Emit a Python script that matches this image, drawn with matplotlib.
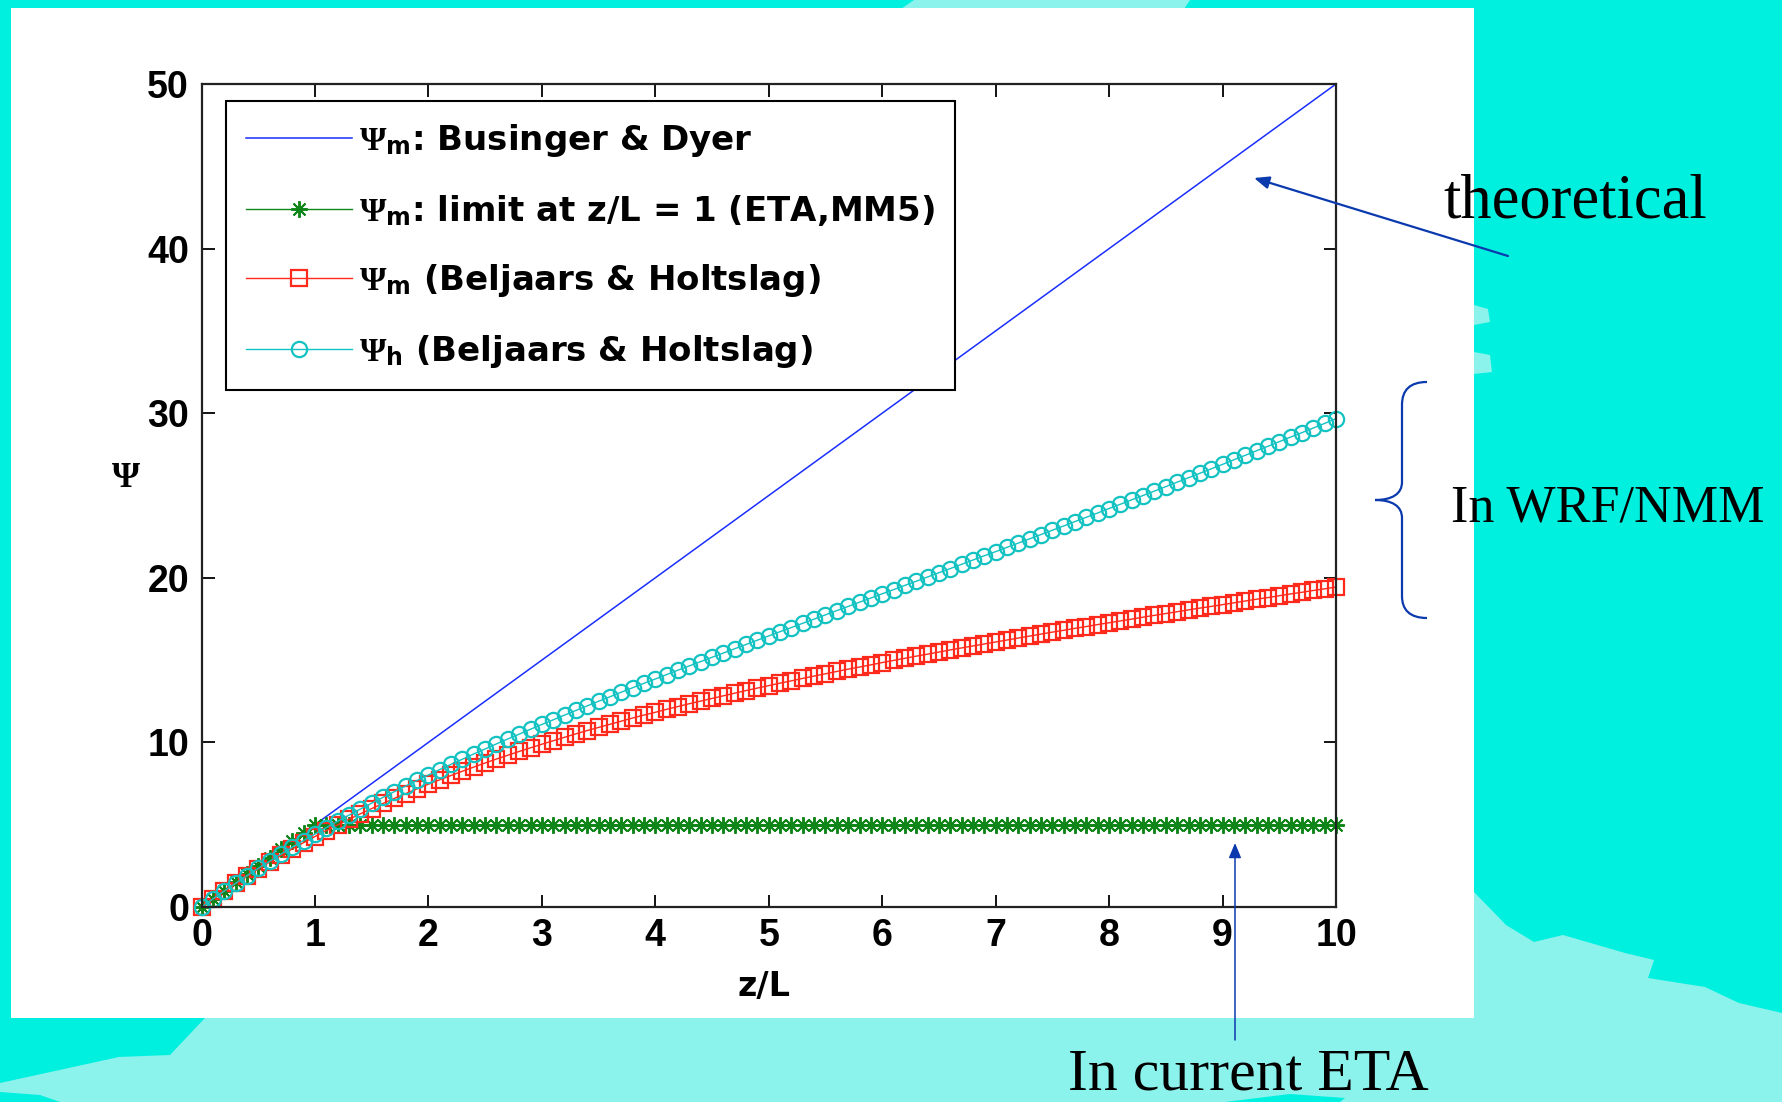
import numpy as np
import matplotlib
matplotlib.use('Agg')
import matplotlib.pyplot as plt
from matplotlib.patches import Polygon, Rectangle, PathPatch, FancyArrowPatch
from matplotlib.path import Path

plt.rcParams['font.family'] = ['Liberation Sans', 'DejaVu Sans']
plt.rcParams['font.weight'] = 'bold'
plt.rcParams['mathtext.fontset'] = 'custom'
plt.rcParams['mathtext.rm'] = 'Liberation Serif'
plt.rcParams['mathtext.it'] = 'Liberation Serif:italic'
plt.rcParams['mathtext.bf'] = 'DejaVu Sans:bold'

# stability parameter grid (step 0.1)
z_L = np.linspace(0.0, 10.0, 101)

# Businger & Dyer, straight line
bd_zl = [0, 1, 2, 3, 4, 5, 6, 7, 8, 9, 10]
bd_psi = [0, 5, 10, 15, 20, 25, 30, 35, 40, 45, 50]

# psi_m capped at z/L = 1 (ETA, MM5)
psi_m_limit = [
    0.0, 0.5, 1.0, 1.5, 2.0, 2.5, 3.0, 3.5, 4.0, 4.5,
    5.0, 5.0, 5.0, 5.0, 5.0, 5.0, 5.0, 5.0, 5.0, 5.0,
    5.0, 5.0, 5.0, 5.0, 5.0, 5.0, 5.0, 5.0, 5.0, 5.0,
    5.0, 5.0, 5.0, 5.0, 5.0, 5.0, 5.0, 5.0, 5.0, 5.0,
    5.0, 5.0, 5.0, 5.0, 5.0, 5.0, 5.0, 5.0, 5.0, 5.0,
    5.0, 5.0, 5.0, 5.0, 5.0, 5.0, 5.0, 5.0, 5.0, 5.0,
    5.0, 5.0, 5.0, 5.0, 5.0, 5.0, 5.0, 5.0, 5.0, 5.0,
    5.0, 5.0, 5.0, 5.0, 5.0, 5.0, 5.0, 5.0, 5.0, 5.0,
    5.0, 5.0, 5.0, 5.0, 5.0, 5.0, 5.0, 5.0, 5.0, 5.0,
    5.0, 5.0, 5.0, 5.0, 5.0, 5.0, 5.0, 5.0, 5.0, 5.0,
    5.0]

# Beljaars & Holtslag, momentum
psi_m_bh = [
    0.00, 0.49, 0.97, 1.43, 1.88, 2.31, 2.73, 3.13, 3.53, 3.91,
    4.28, 4.64, 4.99, 5.33, 5.66, 5.98, 6.29, 6.60, 6.89, 7.18,
    7.46, 7.73, 7.99, 8.25, 8.50, 8.75, 8.99, 9.22, 9.45, 9.67,
    9.89, 10.10, 10.31, 10.52, 10.72, 10.91, 11.10, 11.29, 11.48, 11.66,
    11.83, 12.01, 12.18, 12.35, 12.51, 12.67, 12.83, 12.99, 13.15, 13.30,
    13.45, 13.60, 13.74, 13.89, 14.03, 14.17, 14.31, 14.45, 14.58, 14.71,
    14.85, 14.98, 15.11, 15.24, 15.36, 15.49, 15.62, 15.74, 15.86, 15.98,
    16.10, 16.22, 16.34, 16.46, 16.58, 16.70, 16.81, 16.93, 17.04, 17.16,
    17.27, 17.38, 17.49, 17.61, 17.72, 17.83, 17.94, 18.05, 18.16, 18.26,
    18.37, 18.48, 18.59, 18.70, 18.80, 18.91, 19.02, 19.12, 19.23, 19.33,
    19.44]

# Beljaars & Holtslag, heat
psi_h_bh = [
    0.00, 0.49, 0.97, 1.44, 1.90, 2.35, 2.78, 3.21, 3.63, 4.04,
    4.43, 4.82, 5.21, 5.58, 5.95, 6.31, 6.66, 7.01, 7.35, 7.69,
    8.02, 8.35, 8.67, 8.98, 9.30, 9.60, 9.91, 10.21, 10.50, 10.80,
    11.09, 11.37, 11.66, 11.94, 12.22, 12.50, 12.77, 13.05, 13.32, 13.59,
    13.85, 14.12, 14.39, 14.65, 14.91, 15.17, 15.43, 15.69, 15.95, 16.21,
    16.47, 16.73, 16.98, 17.24, 17.49, 17.75, 18.01, 18.26, 18.52, 18.77,
    19.03, 19.28, 19.54, 19.79, 20.05, 20.31, 20.56, 20.82, 21.08, 21.34,
    21.59, 21.85, 22.11, 22.37, 22.63, 22.89, 23.15, 23.42, 23.68, 23.94,
    24.21, 24.47, 24.74, 25.00, 25.27, 25.54, 25.81, 26.08, 26.35, 26.62,
    26.89, 27.17, 27.44, 27.72, 27.99, 28.27, 28.55, 28.82, 29.10, 29.38,
    29.67]

labels = [r'$\Psi_\mathbf{m}$: Businger & Dyer',
          r'$\Psi_\mathbf{m}$: limit at z/L = 1 (ETA,MM5)',
          r'$\Psi_\mathbf{m}$ (Beljaars & Holtslag)',
          r'$\Psi_\mathbf{h}$ (Beljaars & Holtslag)']

W, H = 1782, 1102
bg_cyan = '#00F0E0'
light_cyan = '#8CF2EC'
note_blue = '#0B3AAE'


def px(x, y):
    # slide pixel position (y downward) -> figure fraction
    return (x / W, 1 - y / H)


fig = plt.figure(figsize=(W / 100, H / 100), dpi=100, facecolor=bg_cyan)

# slide background shapes
shapes = [
    [(205, 1018), (1474, 1018), (1474, 892), (1506, 925), (1534, 942),
     (1563, 935), (1625, 953), (1654, 960), (1648, 978), (1705, 987),
     (1739, 1003), (1782, 1013), (1782, 1102), (60, 1102), (40, 1095),
     (0, 1092), (0, 1083), (119, 1057), (170, 1055)],
    [(901, 9), (914, 0), (1190, 0), (1184, 9)],
    [(1474, 305), (1488, 309), (1490, 322), (1474, 325)],
    [(1474, 352), (1490, 355), (1492, 372), (1474, 374)],
]
for pts in shapes:
    fig.add_artist(Polygon([px(*p) for p in pts], closed=True,
                           transform=fig.transFigure, facecolor=light_cyan,
                           edgecolor='none', zorder=0))
fig.add_artist(Polygon([px(*p) for p in [(1225, 1102), (1290, 1094), (1345, 1098), (1340, 1102)]],
                       closed=True, transform=fig.transFigure, facecolor=bg_cyan,
                       edgecolor='none', zorder=0))

# white figure panel
x0, y0 = px(11, 1018)
x1, y1 = px(1474, 8)
fig.add_artist(Rectangle((x0, y0), x1 - x0, y1 - y0, transform=fig.transFigure,
                         facecolor='white', edgecolor='none', zorder=0.5))

ax_l, ax_b = px(201.5, 907)
ax_r, ax_t = px(1336, 84)
ax = fig.add_axes([ax_l, ax_b, ax_r - ax_l, ax_t - ax_b])
ax.set_zorder(2)

ax.plot(bd_zl, bd_psi, color='#1A2EFF', lw=1.1, label=labels[0])
ax.plot(z_L, psi_m_limit, color='#10861A', lw=1.0, marker=(8, 2, 0), ms=12,
        mew=1.4, label=labels[1], clip_on=False)
ax.plot(z_L, psi_m_bh, color='#FF2A1C', lw=1.0, marker='s', ms=11, mew=1.6,
        mfc='none', label=labels[2], clip_on=False)
ax.plot(z_L, psi_h_bh, color='#14C2C2', lw=1.0, marker='o', ms=11, mew=1.6,
        mfc='none', label=labels[3], clip_on=False)

ax.set_xlim(0, 10)
ax.set_ylim(0, 50)
ax.set_xticks(range(0, 11))
ax.set_yticks(range(0, 51, 10))
ax.tick_params(direction='in', length=9, width=1.3, top=True, right=True,
               labelsize=27, colors='black')
ax.tick_params(axis='x', pad=8)
ax.tick_params(axis='y', pad=9)
for sp in ax.spines.values():
    sp.set_linewidth(1.6)
    sp.set_color('#222222')

ax.set_xlabel('z/L', fontfamily='DejaVu Sans', fontweight='bold', fontsize=24,
              va='center', ha='center')
ax.xaxis.set_label_coords(0.496, -0.096)
ax.set_ylabel('\u03a8', fontfamily='Liberation Serif', fontweight='bold',
              fontsize=26, rotation=0, va='center', ha='center')
ax.yaxis.set_label_coords(-0.0665, 0.521)

leg = ax.legend(loc='upper left', bbox_to_anchor=(0.0216, 0.979), borderaxespad=0,
                prop=dict(family='DejaVu Sans', weight='bold', size=24.5),
                fancybox=False, edgecolor='black', framealpha=1, numpoints=1,
                handlelength=3.1, handletextpad=0.2, borderpad=0.6, labelspacing=1.0)
leg.get_frame().set_linewidth(1.5)

# annotations on the slide
fig.text(*px(1443, 218), 'theoretical', fontfamily='Liberation Serif',
         fontweight='normal', fontsize=45, va='baseline', ha='left', zorder=5)
fig.text(*px(1451, 522), 'In WRF/NMM', fontfamily='Liberation Serif',
         fontweight='normal', fontsize=37.5, va='baseline', ha='left', zorder=5)
fig.text(*px(1068, 1089), 'In current ETA', fontfamily='Liberation Serif',
         fontweight='normal', fontsize=43, va='baseline', ha='left', zorder=5)

fig.add_artist(FancyArrowPatch(px(1508, 256), px(1254, 178), transform=fig.transFigure,
                               arrowstyle='-|>,head_length=0.6,head_width=0.25',
                               mutation_scale=15, lw=1.6, color=note_blue,
                               shrinkA=0, shrinkB=0, zorder=6))
fig.add_artist(FancyArrowPatch(px(1235, 1040), px(1235, 843), transform=fig.transFigure,
                               arrowstyle='-|>,head_length=0.6,head_width=0.25',
                               mutation_scale=15, lw=1.1, color=note_blue,
                               shrinkA=0, shrinkB=0, zorder=6))

# curly brace next to the Beljaars & Holtslag curves
brace = [(1427, 382), (1410, 382), (1402, 390), (1402, 405),
         (1402, 482),
         (1402, 494), (1392, 500), (1375, 500),
         (1392, 500), (1402, 506), (1402, 518),
         (1402, 596),
         (1402, 610), (1410, 618), (1427, 618)]
codes = [Path.MOVETO, Path.CURVE4, Path.CURVE4, Path.CURVE4,
         Path.LINETO,
         Path.CURVE4, Path.CURVE4, Path.CURVE4,
         Path.CURVE4, Path.CURVE4, Path.CURVE4,
         Path.LINETO,
         Path.CURVE4, Path.CURVE4, Path.CURVE4]
fig.add_artist(PathPatch(Path([px(*p) for p in brace], codes), transform=fig.transFigure,
                         facecolor='none', edgecolor=note_blue, lw=1.6, zorder=6))

fig.savefig('out.png', dpi=100, facecolor=fig.get_facecolor())
